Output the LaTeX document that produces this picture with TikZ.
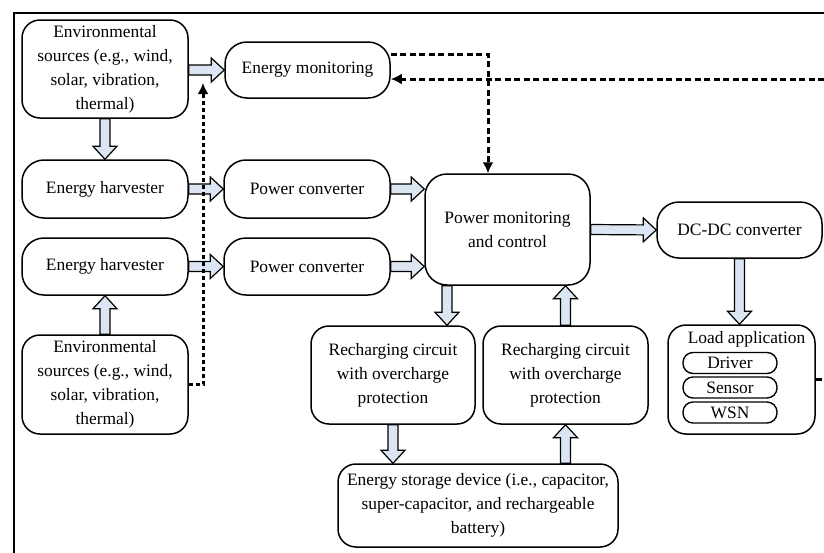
\documentclass[tikz,border=0pt]{standalone}
\usepackage{fontspec}
\setmainfont{Liberation Serif}
\usetikzlibrary{arrows.meta,calc}
\definecolor{flowfill}{HTML}{DCE6F2}

\tikzset{
  box/.style={draw, line width=1.5pt, rounded corners=18pt, align=center,
    inner sep=0pt, font=\fontsize{17.4}{24}\selectfont},
  pillbox/.style={box, rounded corners=22pt},
  tag/.style={draw, line width=1.4pt, rounded corners=10pt, inner sep=0pt,
    minimum width=94pt, minimum height=21pt, font=\fontsize{17.4}{20}\selectfont},
  plain/.style={inner sep=0pt, font=\fontsize{17.4}{20}\selectfont},
  flow/.style={draw, line width=1.2pt, fill=flowfill, line join=miter},
  dashline/.style={line width=3pt, dash pattern=on 6pt off 3.5pt,
    -{Latex[length=11pt,width=11pt]}},
  dotline/.style={line width=3pt, dash pattern=on 4pt off 3pt,
    -{Latex[length=11pt,width=11pt]}},
}

% wide outlined block arrow from #1 to #2
\newcommand\fatarrow[2]{%
  \path[flow] let \p1=#1, \p2=#2,
      \n1={atan2(\y2-\y1,\x2-\x1)}, \n2={veclen(\x2-\x1,\y2-\y1)} in
    [shift={(\p1)}, rotate=\n1]
    (0,-5) -- ({\n2-13},-5) -- ({\n2-13},-12) -- (\n2,0)
    -- ({\n2-13},12) -- ({\n2-13},5) -- (0,5) -- cycle;}

\begin{document}
\begin{tikzpicture}[x=1pt, y=-1pt]
\path[use as bounding box, clip] (0,0) rectangle (824,552);
\draw[line width=1.4pt] (14,13) rectangle (900,600);

% blocks
\node[box, minimum width=166pt, minimum height=98pt] (env1) at (105,69)
  {Environmental\\sources (e.g., wind,\\solar, vibration,\\thermal)};
\node[pillbox, minimum width=165pt, minimum height=56pt] (em) at (307.5,70)
  {Energy monitoring};
\node[pillbox, minimum width=166pt, minimum height=58pt] (eh1) at (105,189)
  {Energy harvester};
\node[pillbox, minimum width=166pt, minimum height=58pt] (pc1) at (307,189)
  {Power converter};
\node[pillbox, minimum width=166pt, minimum height=57pt] (eh2) at (105,266.5)
  {Energy harvester};
\node[pillbox, minimum width=166pt, minimum height=57pt] (pc2) at (307,266.5)
  {Power converter};
\node[box, minimum width=166pt, minimum height=99pt] (env2) at (105,384.5)
  {Environmental\\sources (e.g., wind,\\solar, vibration,\\thermal)};
\node[box, rounded corners=22pt, minimum width=165pt, minimum height=111pt] (pmc) at (507.5,229.5)
  {Power monitoring\\and control};
\node[pillbox, minimum width=165pt, minimum height=56pt] (dcdc) at (739.5,230)
  {DC-DC converter};
\node[box, minimum width=164pt, minimum height=98pt] (r1) at (393,375)
  {Recharging circuit\\with overcharge\\protection};
\node[box, minimum width=165pt, minimum height=98pt] (r2) at (565.5,375)
  {Recharging circuit\\with overcharge\\protection};
\node[box, minimum width=280pt, minimum height=83pt] (store) at (478,505.5)
  {Energy storage device (i.e., capacitor,\\super-capacitor, and rechargeable\\battery)};

% load application with its parts
\node[box, minimum width=147pt, minimum height=109pt] (load) at (741.5,379.5) {};
\node[plain] (loadtitle) at (746.5,339) {Load application};
\node[tag] (driver) at (730,363) {Driver};
\node[tag] (sensor) at (730,387.5) {Sensor};
\node[tag] (wsn) at (730,412.5) {WSN};

% power flow
\fatarrow{(env1.east |- em.west)}{(em.west)}
\fatarrow{(env1.south)}{(eh1.north)}
\fatarrow{(eh1.east)}{(pc1.west)}
\fatarrow{(eh2.east)}{(pc2.west)}
\fatarrow{(env2.north)}{(eh2.south)}
\fatarrow{(pc1.east)}{(pmc.west |- pc1.east)}
\fatarrow{(pc2.east)}{(pmc.west |- pc2.east)}
\fatarrow{(pmc.east)}{(dcdc.west)}
\fatarrow{(dcdc.south)}{(dcdc.south |- load.north)}
\fatarrow{([xshift=-60.5pt]pmc.south)}{([xshift=-60.5pt]pmc.south |- r1.north)}
\fatarrow{(r2.north)}{(r2.north |- pmc.south)}
\fatarrow{(r1.south)}{(r1.south |- store.north)}
\fatarrow{(r2.south |- store.north)}{(r2.south)}

% monitoring signals
\coordinate (tap) at (203,83);
\draw[dotline] (env2.east) -| (tap);
\draw[dashline] ([yshift=16pt]em.east) -| ([xshift=-19.5pt]pmc.north);
\draw[dashline] (load.east) -- ++(25,0) |- ([yshift=-9pt]em.east);
\end{tikzpicture}
\end{document}
